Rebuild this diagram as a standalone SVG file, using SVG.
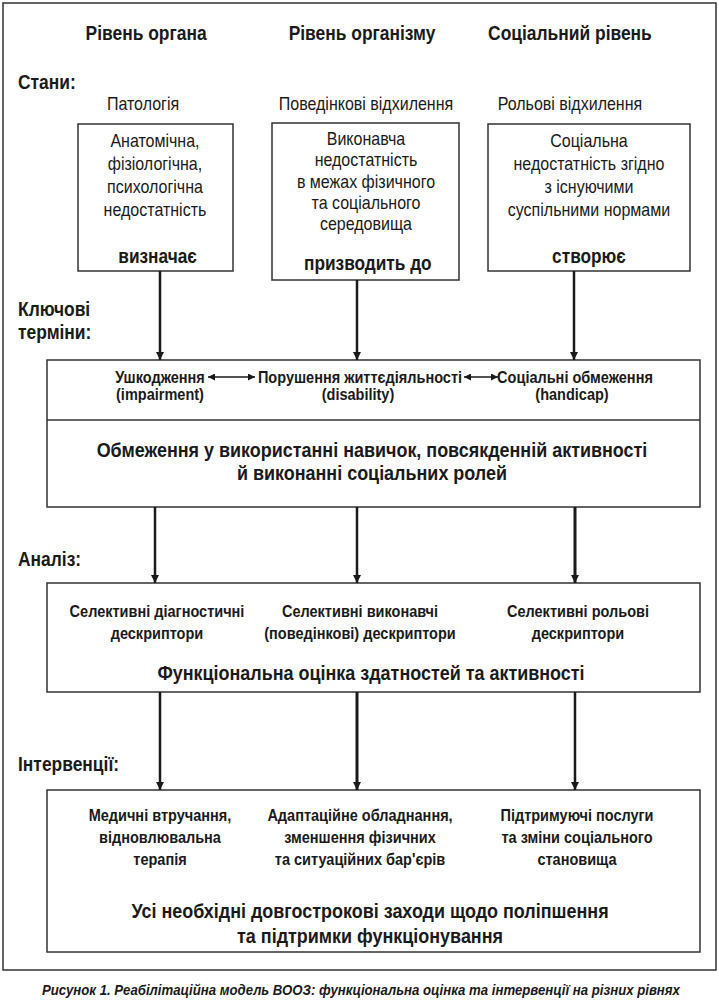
<svg xmlns="http://www.w3.org/2000/svg" width="719" height="1000" viewBox="0 0 719 1000">
<style>
text{font-family:"Liberation Sans",Arial,sans-serif;fill:#1a1a1a;text-anchor:middle}
.h{font-size:19.8px;font-weight:bold}
.lab{font-size:19.8px;font-weight:bold;text-anchor:start}
.r{font-size:18.2px}
.b{font-size:16.5px;font-weight:bold}
.k{font-size:19.6px;font-weight:bold}
.bl{font-size:20.4px;font-weight:bold}
.cap{font-size:15px;font-weight:bold;font-style:italic}
.box{fill:#fff;stroke:#333;stroke-width:1.5}
.conn line{stroke:#1a1a1a;stroke-width:2.5}
</style>
<defs>
<marker id="ah" viewBox="0 0 10 10" refX="10" refY="5" markerWidth="11" markerHeight="8" orient="auto" markerUnits="userSpaceOnUse"><path d="M0,0 L10,5 L0,10 z" fill="#1a1a1a"/></marker>
<marker id="ah2" viewBox="0 0 10 10" refX="10" refY="5" markerWidth="8" markerHeight="7" orient="auto-start-reverse" markerUnits="userSpaceOnUse"><path d="M0,0 L10,5 L0,10 z" fill="#1a1a1a"/></marker>
</defs>
<rect x="3" y="3" width="713" height="967" fill="#fff" stroke="#333" stroke-width="1.5"/>
<g id="headers" transform="scale(0.88,1)">
<text class="h" x="166" y="40">Рівень органа</text>
<text class="h" x="411.4" y="40">Рівень організму</text>
<text class="h" x="647.7" y="40">Соціальний рівень</text>
</g>
<g id="labels" transform="scale(0.88,1)">
<text class="lab" x="20.5" y="89">Стани:</text>
<text class="lab" x="20.5" y="316">Ключові</text>
<text class="lab" x="20.5" y="339">терміни:</text>
<text class="lab" x="20.5" y="566">Аналіз:</text>
<text class="lab" x="20.5" y="771">Інтервенції:</text>
</g>
<g id="states" transform="scale(0.88,1)">
<text class="r" x="162.5" y="110">Патологія</text>
<text class="r" x="415.9" y="110">Поведінкові відхилення</text>
<text class="r" x="647.7" y="110">Рольові відхилення</text>
</g>
<g id="box1">
<rect class="box" x="78" y="124" width="155" height="147"/>
<g transform="scale(0.88,1)">
<text class="r" x="176.1" y="147">Анатомічна,</text>
<text class="r" x="176.1" y="170">фізіологічна,</text>
<text class="r" x="176.1" y="193">психологічна</text>
<text class="r" x="176.1" y="216">недостатність</text>
<text class="k" x="179" y="263">визначає</text>
</g>
</g>
<g id="box2">
<rect class="box" x="272" y="123" width="187" height="157"/>
<g transform="scale(0.88,1)">
<text class="r" x="415.9" y="145">Виконавча</text>
<text class="r" x="415.9" y="166">недостатність</text>
<text class="r" x="415.9" y="188">в межах фізичного</text>
<text class="r" x="415.9" y="209">та соціального</text>
<text class="r" x="415.9" y="230">середовища</text>
<text class="k" x="418" y="270">призводить до</text>
</g>
</g>
<g id="box3">
<rect class="box" x="488" y="124" width="202" height="147"/>
<g transform="scale(0.88,1)">
<text class="r" x="669.3" y="147">Соціальна</text>
<text class="r" x="669.3" y="170">недостатність згідно</text>
<text class="r" x="669.3" y="193">з існуючими</text>
<text class="r" x="669.3" y="216">суспільними нормами</text>
<text class="k" x="669.3" y="263">створює</text>
</g>
</g>
<g id="keyterms">
<rect class="box" x="47" y="360" width="653" height="147"/>
<line x1="47" y1="420" x2="700" y2="420" stroke="#333" stroke-width="1.5"/>
<g transform="scale(0.88,1)">
<text class="b" x="181.8" y="383">Ушкодження</text>
<text class="b" x="181.8" y="400">(impairment)</text>
<text class="b" x="409.1" y="383">Порушення життєдіяльності</text>
<text class="b" x="406.8" y="400">(disability)</text>
<text class="b" x="653.4" y="383">Соціальні обмеження</text>
<text class="b" x="650" y="400">(handicap)</text>
<text class="bl" x="422.7" y="457">Обмеження у використанні навичок, повсякденній активності</text>
<text class="bl" x="422.7" y="480">й виконанні соціальних ролей</text>
</g>
</g>
<g id="analysis">
<rect class="box" x="47" y="583" width="653" height="109"/>
<g transform="scale(0.88,1)">
<text class="b" x="178.4" y="617">Селективні діагностичні</text>
<text class="b" x="178.4" y="639">дескриптори</text>
<text class="b" x="409.1" y="617">Селективні виконавчі</text>
<text class="b" x="409.1" y="639">(поведінкові) дескриптори</text>
<text class="b" x="656.8" y="617">Селективні рольові</text>
<text class="b" x="656.8" y="639">дескриптори</text>
<text class="bl" x="421.6" y="680">Функціональна оцінка здатностей та активності</text>
</g>
</g>
<g id="interventions">
<rect class="box" x="47" y="790" width="653" height="162"/>
<g transform="scale(0.88,1)">
<text class="b" x="181.8" y="821">Медичні втручання,</text>
<text class="b" x="181.8" y="843">відновлювальна</text>
<text class="b" x="181.8" y="865">терапія</text>
<text class="b" x="409.1" y="821">Адаптаційне обладнання,</text>
<text class="b" x="409.1" y="843">зменшення фізичних</text>
<text class="b" x="409.1" y="865">та ситуаційних бар'єрів</text>
<text class="b" x="655.7" y="821">Підтримуючі послуги</text>
<text class="b" x="655.7" y="843">та зміни соціального</text>
<text class="b" x="655.7" y="865">становища</text>
<text class="bl" x="420.5" y="918">Усі необхідні довгострокові заходи щодо поліпшення</text>
<text class="bl" x="420.5" y="943">та підтримки функціонування</text>
</g>
</g>
<g id="connectors" class="conn">
<line x1="160" y1="271" x2="160" y2="360" marker-end="url(#ah)"/>
<line x1="357" y1="280" x2="357" y2="360" marker-end="url(#ah)"/>
<line x1="574" y1="271" x2="574" y2="360" marker-end="url(#ah)"/>
<line x1="155" y1="507" x2="155" y2="583" marker-end="url(#ah)"/>
<line x1="357" y1="507" x2="357" y2="583" marker-end="url(#ah)"/>
<line x1="575" y1="507" x2="575" y2="583" marker-end="url(#ah)" style="stroke-width:3"/>
<line x1="160" y1="692" x2="160" y2="790" marker-end="url(#ah)"/>
<line x1="357" y1="692" x2="357" y2="790" marker-end="url(#ah)" style="stroke-width:3"/>
<line x1="575" y1="692" x2="575" y2="790" marker-end="url(#ah)"/>
<line x1="208" y1="377" x2="255" y2="377" style="stroke-width:1.5" marker-start="url(#ah2)" marker-end="url(#ah2)"/>
<line x1="464" y1="377" x2="498" y2="377" style="stroke-width:1.5" marker-start="url(#ah2)" marker-end="url(#ah2)"/>
</g>
<g id="caption" transform="scale(0.88,1)">
<text class="cap" x="410.2" y="995">Рисунок 1. Реабілітаційна модель ВООЗ: функціональна оцінка та інтервенції на різних рівнях</text>
</g>
</svg>
